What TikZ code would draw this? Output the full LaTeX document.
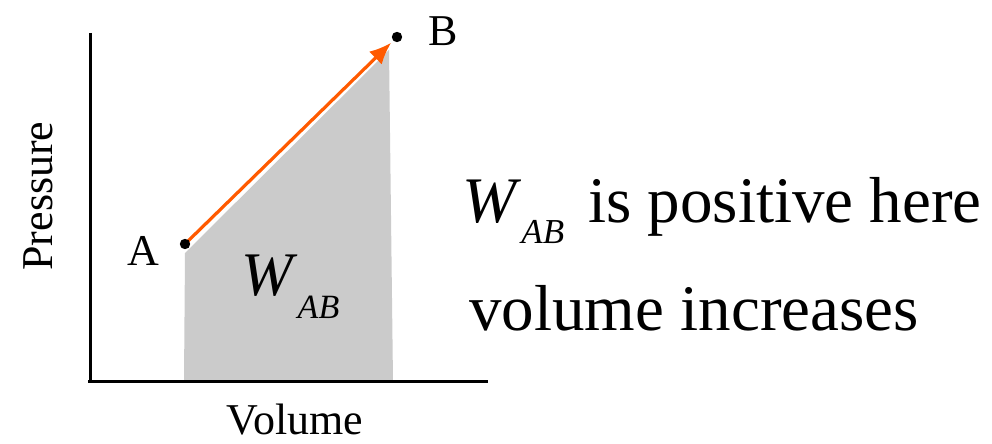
\documentclass[tikz,border=0pt]{standalone}
\usepackage{fontspec}
\setmainfont{Liberation Serif}
\usepackage{tikz}
\usetikzlibrary{arrows.meta}
\definecolor{PVGray}{HTML}{CBCBCB}
\definecolor{PVOrange}{HTML}{FF5A00}

\tikzset{
  axisline/.style={line width=1.5pt},
  pathline/.style={line width=1.6pt,PVOrange,-{Latex[length=11pt,width=9pt]}},
  lab/.style={inner sep=0pt,font=\fontsize{22}{26}\selectfont},
  bigtxt/.style={inner sep=0pt,font=\fontsize{32.5}{38}\selectfont},
}

\begin{document}
\begin{tikzpicture}[x=0.5pt,y=-0.5pt]
    \useasboundingbox (0,0) rectangle (992,444);
    % states and axes
    \coordinate (A) at (185,244);
    \coordinate (B) at (397,37);
    \coordinate (top) at (90,33);
    \coordinate (orig) at (90,381);
    \coordinate (right) at (488,381);
    \fill[PVGray] (185,253) -- (389,50) -- (393,381) -- (184,381) -- cycle;
    \draw[axisline] (top) -- (orig |- 0,383);
    \draw[axisline] (88,381) -- (right);
    \draw[pathline,shorten >=4pt] (A) -- (B);
    \fill (A) circle (2.6pt);
    \fill (B) circle (2.6pt);
    \node[lab] (labA) at (143,251) {A};
    \node[lab] (labB) at (443,31) {B};
    \node[lab,rotate=90] (labP) at (38,196) {Pressure};
    \node[lab,anchor=base] (labV) at (295,434) {Volume};
    % work labels
    \node[inner sep=0pt,anchor=base west,font=\fontsize{31}{36}\selectfont]
      (wIn) at (241,295) {\textit{W}\raisebox{-11.5pt}{\fontsize{17}{20}\selectfont\textit{AB}}};
    \node[bigtxt,anchor=base west] (line1) at (462,222)
      {\textit{W}\raisebox{-10.5pt}{\fontsize{17.5}{20}\selectfont\textit{AB}}\hspace{12pt}is positive here};
    \node[bigtxt,anchor=base west] (line2) at (469,330) {volume increases};
\end{tikzpicture}
\end{document}
